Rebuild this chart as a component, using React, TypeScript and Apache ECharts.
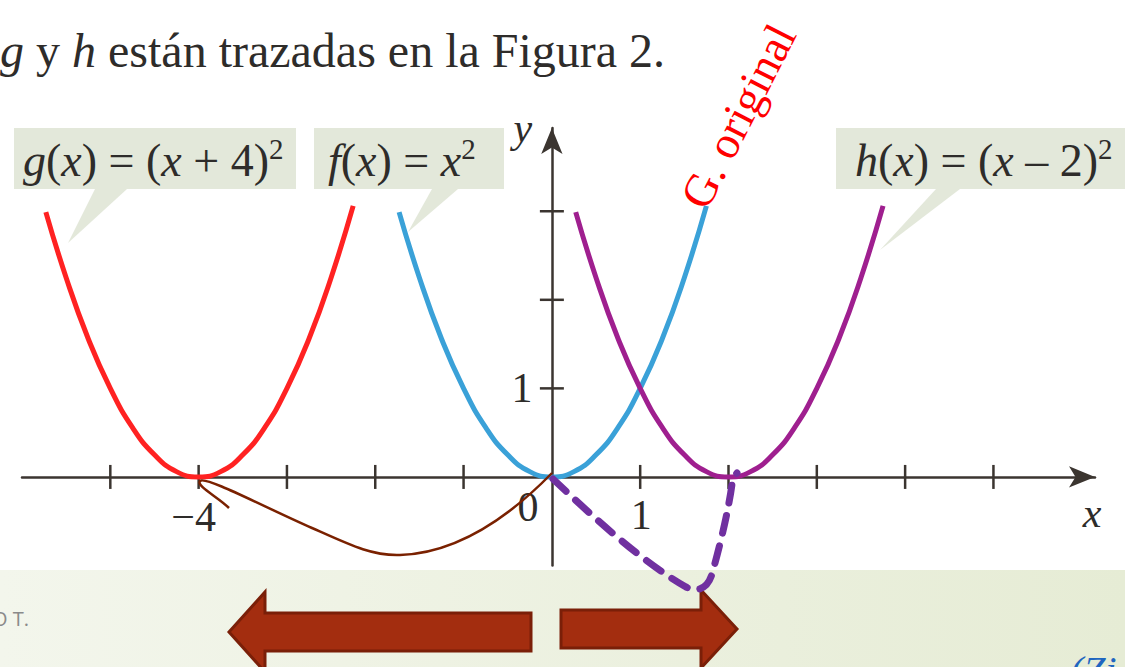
import React, { useEffect, useRef } from "react";
import * as echarts from "echarts";

// Parabola samples (shared height profile; each curve has its own x positions)
const parabolaY = [2.99, 2.25, 1.56, 1, 0.56, 0.25, 0.06, 0, 0.06, 0.25, 0.56, 1, 1.56, 2.25, 3.06];
const fX = [-1.73, -1.5, -1.25, -1, -0.75, -0.5, -0.25, 0, 0.25, 0.5, 0.75, 1, 1.25, 1.5, 1.75];
const gX = [-5.73, -5.5, -5.25, -5, -4.75, -4.5, -4.25, -4, -3.75, -3.5, -3.25, -3, -2.75, -2.5, -2.25];
const hX = [0.27, 0.5, 0.75, 1, 1.25, 1.5, 1.75, 2, 2.25, 2.5, 2.75, 3, 3.25, 3.5, 3.75];

// Axis ticks and labels
const xTickValues = [-5, -4, -3, -2, -1, 1, 2, 3, 4, 5];
const yTickValues = [1, 2, 3];
const axisLabelTexts = ["−4", "0", "1", "1", "x", "y"];
const axisLabelAt: [number, number][] = [[-4, 0], [0, 0], [1, 0], [0, 1], [6.15, 0], [0, 3.94]];

const SERIF = "'Liberation Serif', 'Times New Roman', serif";
const INK = "#2e2c2a";
const AXIS = "#3b3530";
const BOX = "#e3e8da";

// pixel offsets of each axis label from its anchor point
const labelOffsets: [number, number, boolean][] = [
  [-5, 40, false],
  [-24, 30, false],
  [1, 38, false],
  [-30, 0, false],
  [-3, 36, true],
  [-29, 0, true],
];

const BROWN_PATH =
  "M229,508 C218,497 196,486 200,481 C206,476 262,506 312,528 C350,545 372,556 400,555 C460,553 512,514 552,473";
const PURPLE_PATH =
  "M553,479 C592,516 642,562 686,587 C698,593 708,588 712,574 C721,542 729,507 732,484 C733,478 735,475 737,473";

let shapesRegistered = false;
function registerShapes() {
  if (shapesRegistered) return;
  echarts.graphic.registerShape("brownArc", echarts.graphic.extendPath(BROWN_PATH, {}));
  echarts.graphic.registerShape("purpleArc", echarts.graphic.extendPath(PURPLE_PATH, {}));
  shapesRegistered = true;
}

const richMath = (size: number) => ({
  i: { fontFamily: SERIF, fontStyle: "italic", fontSize: size, fill: INK, lineHeight: size + 6 },
  n: { fontFamily: SERIF, fontSize: size, fill: INK, lineHeight: size + 6 },
  s: { fontFamily: SERIF, fontSize: Math.round(size * 0.62), fill: INK, lineHeight: size + 6, verticalAlign: "top" },
});

function callout(x: number, y: number, w: number, h: number, pointer: number[][], text: string, tx: number) {
  return [
    { type: "rect", shape: { x, y, width: w, height: h }, style: { fill: BOX }, z: 5 },
    { type: "polygon", shape: { points: pointer }, style: { fill: BOX }, z: 5 },
    {
      type: "text",
      x: tx,
      y: y + h / 2 + 2,
      style: { text, rich: richMath(46), align: "left", verticalAlign: "middle" },
      z: 6,
    },
  ];
}

export default function App() {
  const ref = useRef<HTMLDivElement>(null);

  useEffect(() => {
    if (!ref.current) return;
    registerShapes();
    const chart = echarts.init(ref.current, null, { renderer: "svg" });

    const curve = (xs: number[], color: string) => ({
      type: "line",
      data: xs.map((x, i) => [x, parabolaY[i]]),
      smooth: true,
      showSymbol: false,
      lineStyle: { color, width: 5 },
      z: 3,
      silent: true,
    });

    const option: any = {
      animation: false,
      backgroundColor: "#ffffff",
      grid: { left: 22, right: 30, top: 128, bottom: 101.5, containLabel: false },
      xAxis: {
        type: "value",
        min: -6,
        max: 6.15,
        axisLine: {
          onZero: true,
          lineStyle: { color: AXIS, width: 2.5 },
          symbol: ["none", "arrow"],
          symbolSize: [16, 26],
        },
        axisTick: { show: false },
        axisLabel: { show: false },
        splitLine: { show: false },
      },
      yAxis: {
        type: "value",
        min: -1,
        max: 3.94,
        axisLine: {
          onZero: true,
          lineStyle: { color: AXIS, width: 2.5 },
          symbol: ["none", "arrow"],
          symbolSize: [16, 26],
        },
        axisTick: { show: false },
        axisLabel: { show: false },
        splitLine: { show: false },
      },
      series: [
        curve(gX, "#ff2222"),
        curve(fX, "#3aa1d8"),
        curve(hX, "#9f1f8f"),
        {
          type: "custom",
          clip: false,
          silent: true,
          z: 2,
          data: xTickValues.map((v) => [v, 0]),
          renderItem: (params: any, api: any) => {
            const p = api.coord([api.value(0), api.value(1)]);
            return {
              type: "line",
              shape: { x1: p[0], y1: p[1] - 12, x2: p[0], y2: p[1] + 12 },
              style: { stroke: AXIS, lineWidth: 2.5 },
            };
          },
        },
        {
          type: "custom",
          clip: false,
          silent: true,
          z: 2,
          data: yTickValues.map((v) => [0, v]),
          renderItem: (params: any, api: any) => {
            const p = api.coord([api.value(0), api.value(1)]);
            return {
              type: "line",
              shape: { x1: p[0] - 12, y1: p[1], x2: p[0] + 12, y2: p[1] },
              style: { stroke: AXIS, lineWidth: 2.5 },
            };
          },
        },
        {
          type: "custom",
          clip: false,
          silent: true,
          z: 4,
          data: axisLabelAt,
          renderItem: (params: any, api: any) => {
            const i = params.dataIndex;
            const p = api.coord([api.value(0), api.value(1)]);
            const [dx, dy, italic] = labelOffsets[i];
            return {
              type: "text",
              x: p[0] + dx,
              y: p[1] + dy,
              style: {
                text: axisLabelTexts[i],
                fontFamily: SERIF,
                fontSize: 42,
                fontStyle: italic ? "italic" : "normal",
                fill: INK,
                align: "center",
                verticalAlign: "middle",
              },
            };
          },
        },
      ],
      graphic: [
        // bottom band
        {
          type: "rect",
          shape: { x: 0, y: 570, width: 1125, height: 97 },
          style: {
            fill: new echarts.graphic.LinearGradient(0, 0, 1, 0, [
              { offset: 0, color: "#f3f6ec" },
              { offset: 1, color: "#e6ecd5" },
            ]),
          },
          z: 0,
        },
        {
          type: "text",
          x: 0,
          y: 50,
          style: {
            text: "{i|g} y {i|h} están trazadas en la Figura 2.",
            fontFamily: SERIF,
            fontSize: 48,
            fill: INK,
            rich: {
              i: { fontFamily: SERIF, fontStyle: "italic", fontSize: 48, fill: INK },
            },
            align: "left",
            verticalAlign: "middle",
          },
          z: 6,
        },
        ...callout(14, 128, 282, 61, [[95, 189], [127, 189], [68, 243]], "{i|g}{n|(}{i|x}{n|) = (}{i|x}{n| + 4)}{s|2}", 23),
        ...callout(314, 128, 190, 61, [[432, 189], [458, 189], [408, 232]], "{i|f}{n|(}{i|x}{n|) = }{i|x}{s|2}", 328),
        ...callout(836, 128, 300, 61, [[936, 189], [960, 189], [880, 250]], "{i|h}{n|(}{i|x}{n|) = (}{i|x}{n| – 2)}{s|2}", 855),
        {
          type: "text",
          x: 693,
          y: 205,
          rotation: (63 * Math.PI) / 180,
          style: {
            text: "G. original",
            fontFamily: SERIF,
            fontSize: 46,
            fill: "#ff0000",
            align: "left",
            verticalAlign: "middle",
          },
          z: 6,
        },
        {
          type: "brownArc",
          style: { stroke: "#7a2100", fill: "none", lineWidth: 2.5 },
          z: 7,
        },
        {
          type: "purpleArc",
          style: {
            stroke: "#7030a0",
            fill: "none",
            lineWidth: 7,
            lineDash: [18, 13],
            lineCap: "round",
          },
          z: 8,
        },
        {
          type: "polygon",
          shape: {
            points: [[229, 632], [265, 592], [265, 613], [531, 613], [531, 651], [265, 651], [265, 672]],
          },
          style: { fill: "#a32d0f", stroke: "#7a1f08", lineWidth: 3 },
          z: 7,
        },
        {
          type: "polygon",
          shape: {
            points: [[737, 629], [701, 590], [701, 610], [561, 610], [561, 648], [701, 648], [701, 668]],
          },
          style: { fill: "#a32d0f", stroke: "#7a1f08", lineWidth: 3 },
          z: 7,
        },
        {
          type: "text",
          x: -8,
          y: 618,
          style: {
            text: "O T.",
            fontFamily: "'Open Sans', sans-serif",
            fontSize: 20,
            fill: "#8a8a8a",
            align: "left",
            verticalAlign: "middle",
          },
          z: 6,
        },
        {
          type: "text",
          x: 1070,
          y: 650,
          style: {
            text: "(Zi",
            fontFamily: SERIF,
            fontStyle: "italic",
            fontSize: 40,
            fill: "#1f66c0",
            align: "left",
            verticalAlign: "top",
          },
          z: 6,
        },
      ],
    };

    chart.setOption(option);
    return () => chart.dispose();
  }, []);

  return (
    <div
      ref={ref}
      style={{ position: "fixed", left: 0, top: 0, width: 1125, height: 667, background: "#ffffff" }}
    />
  );
}
